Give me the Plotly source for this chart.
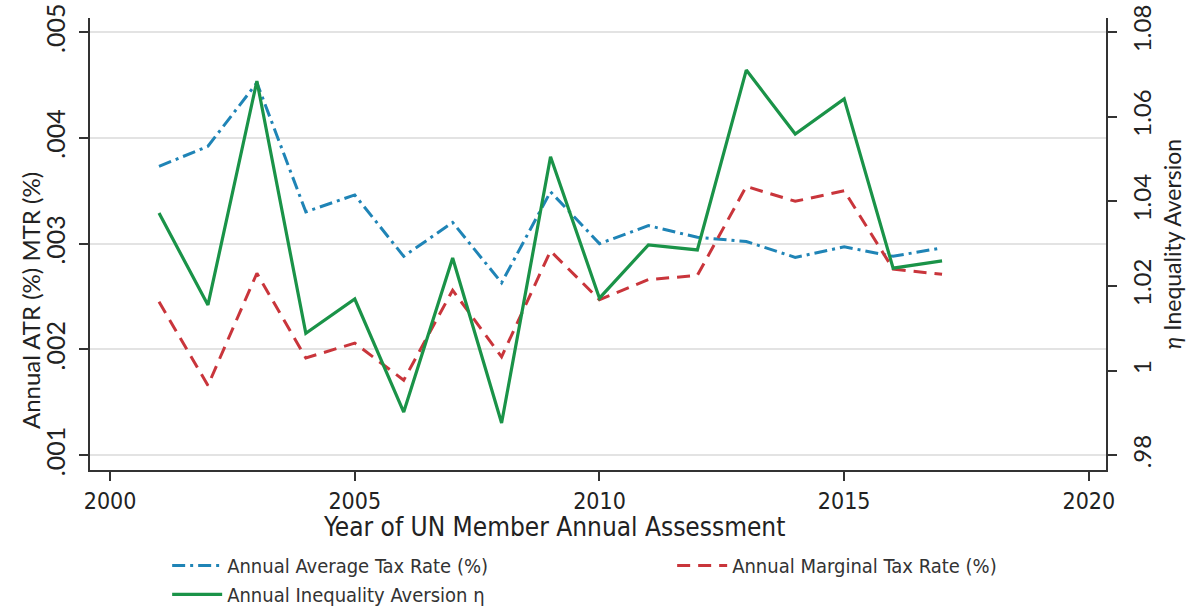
import plotly.graph_objects as go

years = list(range(2001, 2018))
atr = [0.00373, 0.00392, 0.00452, 0.00330, 0.00346, 0.00288, 0.00320, 0.00263,
       0.00349, 0.00300, 0.00317, 0.00306, 0.00302, 0.00287, 0.00297, 0.00288, 0.00296]
mtr = [0.00245, 0.00166, 0.00272, 0.00192, 0.00206, 0.00171, 0.00256, 0.00193,
       0.00293, 0.00247, 0.00266, 0.00270, 0.00354, 0.00340, 0.00350, 0.00276, 0.00271]
eta = [1.0372, 1.0155, 1.0684, 1.0088, 1.0169, 0.9902, 1.0266, 0.9876,
       1.0505, 1.0171, 1.0297, 1.0285, 1.0710, 1.0559, 1.0642, 1.0242, 1.0259]

left_ticks = [0.001, 0.002, 0.003, 0.004, 0.005]
left_labels = [".001", ".002", ".003", ".004", ".005"]
right_ticks = [0.98, 1.00, 1.02, 1.04, 1.06, 1.08]
right_labels = [".98", "1", "1.02", "1.04", "1.06", "1.08"]
x_ticks = [2000, 2005, 2010, 2015, 2020]

BLUE = "#1f84b6"
RED = "#c9353b"
GREEN = "#1a9348"
AX = "#333333"
FONT = "Lato"
NARROW = "DejaVu Sans Condensed"

fig = go.Figure()
fig.add_trace(go.Scatter(x=years, y=atr, mode="lines", name="Annual Average Tax Rate (%)",
                         line=dict(color=BLUE, width=3, dash="13px,5px,3px,5px")))
fig.add_trace(go.Scatter(x=years, y=mtr, mode="lines", name="Annual Marginal Tax Rate (%)",
                         line=dict(color=RED, width=3, dash="13px,8px")))
fig.add_trace(go.Scatter(x=years, y=eta, mode="lines", name="Annual Inequality Aversion η",
                         line=dict(color=GREEN, width=3.2), yaxis="y2"))

fig.update_layout(
    width=1194, height=612,
    margin=dict(l=90, r=88, t=18, b=142, autoexpand=False),
    paper_bgcolor="white", plot_bgcolor="white",
    font=dict(family=FONT, color="#222222"),
    xaxis=dict(range=[1999.59, 2020.35], tickvals=x_ticks, showgrid=False, zeroline=False,
               showline=True, linecolor=AX, linewidth=2, ticks="outside", ticklen=9,
               tickwidth=1.5, tickcolor=AX, automargin=False,
               tickfont=dict(family=NARROW, size=23, color="#222")),
    yaxis=dict(range=[0.000861, 0.005132], tickvals=left_ticks, ticktext=left_labels,
               tickangle=-90, showgrid=True, gridcolor="#e3e3e3", gridwidth=1.5,
               zeroline=False, showline=True, linecolor=AX, linewidth=2, automargin=False,
               ticks="outside", ticklen=9, tickwidth=1.5, tickcolor=AX,
               ticklabelstandoff=4,
               tickfont=dict(family=FONT, size=25, color="#222")),
    yaxis2=dict(range=[0.9765, 1.0833], tickvals=right_ticks, ticktext=right_labels,
                tickangle=-90, overlaying="y", side="right", showgrid=False,
                zeroline=False, showline=True, linecolor=AX, linewidth=2, automargin=False,
                ticks="outside", ticklen=9, tickwidth=1.5, tickcolor=AX,
                ticklabelstandoff=5,
                tickfont=dict(family=FONT, size=24, color="#222"),
                title=dict(text="<i>η</i> Inequality Aversion", standoff=10,
                           font=dict(family=FONT, size=23, color="#222"))),
    legend=dict(orientation="h", xref="container", yref="container",
                x=0.14, xanchor="left", y=0.108, yanchor="top",
                entrywidth=440, entrywidthmode="pixels",
                font=dict(family=NARROW, size=20, color="#333"),
                itemwidth=50, bgcolor="rgba(0,0,0,0)"),
    showlegend=True,
    annotations=[
        dict(text="Year of UN Member Annual Assessment", xref="paper", yref="paper",
             x=(554 - 90) / 1016, y=-(527 - 470) / 452, xanchor="center", yanchor="middle",
             showarrow=False, font=dict(family=NARROW, size=26, color="#222")),
        dict(text="Annual ATR (%) MTR (%)", xref="paper", yref="paper", textangle=-90,
             x=(30 - 90) / 1016, y=(470 - 301) / 452, xanchor="center", yanchor="middle",
             showarrow=False, font=dict(family=FONT, size=24, color="#222")),
    ],
)

fig.write_html("out.html", config={"displayModeBar": False},
               post_script="document.body.style.margin='0';")
